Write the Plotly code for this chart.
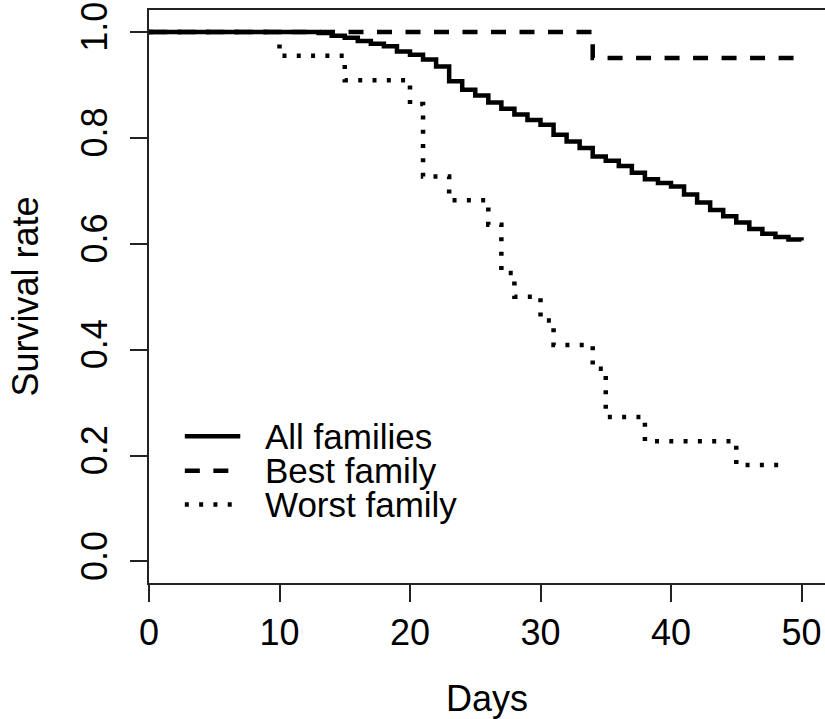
import plotly.graph_objects as go

# ---- data ----
all_days = [0, 13, 14, 15, 16, 17, 18, 19, 20, 21, 22, 23, 24, 25, 26, 27, 28, 29, 30,
            31, 32, 33, 34, 35, 36, 37, 38, 39, 40, 41, 42, 43, 44, 45, 46, 47, 48, 49, 50]
all_surv = [1.0, 0.998, 0.993, 0.989, 0.983, 0.978, 0.973, 0.963, 0.957, 0.948, 0.935,
            0.907, 0.891, 0.880, 0.867, 0.855, 0.844, 0.834, 0.825, 0.806, 0.793, 0.781,
            0.765, 0.757, 0.747, 0.734, 0.722, 0.715, 0.708, 0.693, 0.678, 0.664, 0.652,
            0.640, 0.628, 0.619, 0.613, 0.608, 0.606]

best_days = [0, 34, 50]
best_surv = [1.0, 0.951, 0.951]

worst_days = [0, 10, 15, 20, 21, 23, 26, 27, 28, 30, 31, 34, 35, 38, 45, 49]
worst_surv = [1.0, 0.955, 0.909, 0.864, 0.727, 0.682, 0.636, 0.545, 0.500, 0.455,
              0.409, 0.364, 0.273, 0.227, 0.182, 0.182]

x_ticks = [0, 10, 20, 30, 40, 50]
y_ticks = [0.0, 0.2, 0.4, 0.6, 0.8, 1.0]
y_tick_labels = ["0.0", "0.2", "0.4", "0.6", "0.8", "1.0"]

series_names = ["All families", "Best family", "Worst family"]

FONT = "Liberation Sans, Arial, sans-serif"
LW = 4.5
SOLID = "solid"
DASH = "15px,13.5px"
DOT = "4px,10.3px"

fig = go.Figure()
fig.add_trace(go.Scatter(x=all_days, y=all_surv, mode="lines", line_shape="hv",
                         line=dict(color="black", width=LW, dash=SOLID),
                         name=series_names[0], showlegend=False))
fig.add_trace(go.Scatter(x=best_days, y=best_surv, mode="lines", line_shape="hv",
                         line=dict(color="black", width=LW, dash=DASH),
                         name=series_names[1], showlegend=False))
fig.add_trace(go.Scatter(x=worst_days, y=worst_surv, mode="lines", line_shape="hv",
                         line=dict(color="black", width=LW, dash=DOT),
                         name=series_names[2], showlegend=False))

# manual legend (R style, no box)
leg_y = [0.256, 0.196, 0.137]
leg_dash = [SOLID, DASH, DOT]
for name, yy, d in zip(series_names, leg_y, leg_dash):
    fig.add_shape(type="line", xref="paper", yref="paper", x0=0.053, x1=0.135,
                  y0=yy, y1=yy, line=dict(color="black", width=LW, dash=d))
    fig.add_annotation(xref="paper", yref="paper", x=0.169, y=yy, text=name,
                       showarrow=False, xanchor="left", yanchor="middle",
                       font=dict(family=FONT, size=35, color="black"))

axis_common = dict(showline=True, linecolor="#222", linewidth=1.5, mirror=True,
                   ticks="outside", ticklen=17, tickwidth=1.5, tickcolor="#222",
                   showgrid=False, zeroline=False, automargin=False,
                   tickfont=dict(family=FONT, size=36, color="black"))

fig.update_xaxes(range=[0, 51.8], tickvals=x_ticks,
                 title=dict(text="Days", font=dict(family=FONT, size=36, color="black"),
                            standoff=35),
                 ticklabelstandoff=0, **axis_common)
fig.update_yaxes(range=[-0.0408, 1.0416], tickvals=y_ticks, ticktext=y_tick_labels,
                 tickangle=-90,
                 title=dict(text="Survival rate", font=dict(family=FONT, size=36, color="black"),
                            standoff=24),
                 ticklabelstandoff=9, **axis_common)

fig.update_layout(width=825, height=719, margin=dict(l=149, r=0, t=10, b=136),
                  plot_bgcolor="white", paper_bgcolor="white",
                  font=dict(family=FONT, color="black"))

fig.write_html("out.html", config={"displayModeBar": False},
               post_script="document.body.style.margin='0';document.body.style.overflow='hidden';")
